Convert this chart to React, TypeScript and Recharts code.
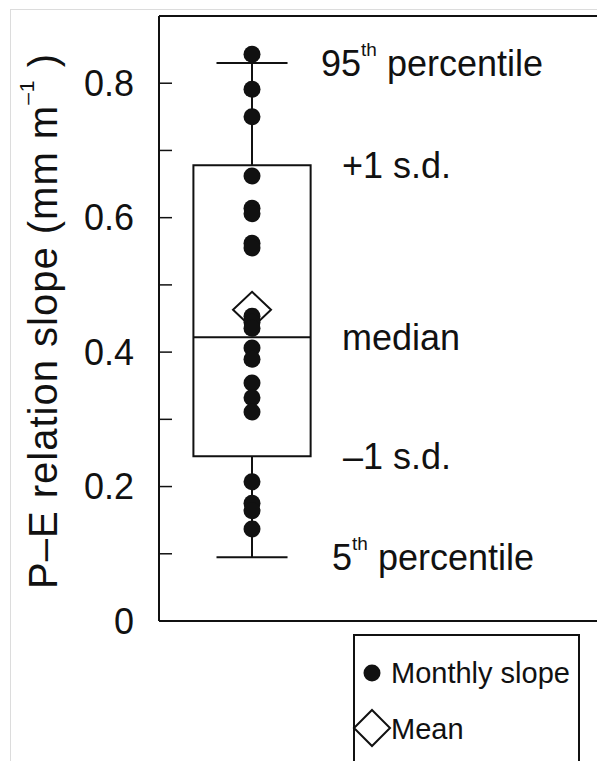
import React from 'react';
import { ComposedChart, Scatter, XAxis, YAxis, ReferenceArea, ReferenceLine } from 'recharts';

// individual monthly slopes, read top to bottom
const monthlySlope = [
  0.843, 0.791, 0.75, 0.662, 0.614, 0.606, 0.562, 0.555,
  0.4535, 0.4445, 0.4355, 0.406, 0.3895,
  0.354, 0.332, 0.311,
  0.207, 0.175, 0.164, 0.137,
];
const meanSlope = [0.463];

// box-plot statistics: 95th pct, +1 s.d., median, -1 s.d., 5th pct
const statNames = ['p95', 'sdHigh', 'median', 'sdLow', 'p5'];
const statValues = [0.83, 0.678, 0.422, 0.245, 0.095];
// [main, superscript, rest]
const statLabels: [string, string, string][] = [
  ['95', 'th', ' percentile'],
  ['+1 s.d.', '', ''],
  ['median', '', ''],
  ['\u20131 s.d.', '', ''],
  ['5', 'th', ' percentile'],
];
const statLabelDx = [69, 90, 90, 91, 80];

const yTicks = [0, 0.1, 0.2, 0.3, 0.4, 0.5, 0.6, 0.7, 0.8];
const yTickLabels = ['0', '', '0.2', '', '0.4', '', '0.6', '', '0.8'];

const INK = '#111';
const FONT = '"Liberation Sans", Arial, Helvetica, sans-serif';
const PLOT_LEFT = 159;
const PLOT_RIGHT = 603;
const SERIES_X = 0.2095;
const BOX_HALF = 0.132;
const CAP_HALF = 0.08;

const stat = (name: string) => statValues[statNames.indexOf(name)];

const dotData = monthlySlope.map((y) => ({ x: SERIES_X, y }));
const meanData = meanSlope.map((y) => ({ x: SERIES_X, y }));
const labelData = statValues.map((y, i) => ({ x: SERIES_X, y, i }));

const LeftTick = (props: any) => {
  const { y, payload } = props;
  const idx = yTicks.indexOf(payload.value);
  const label = yTickLabels[idx] ?? '';
  return (
    <g>
      <line x1={PLOT_LEFT} x2={PLOT_LEFT + 13} y1={y} y2={y} stroke={INK} strokeWidth={1.5} />
      {label && (
        <text x={PLOT_LEFT - 25} y={y + 12.5} textAnchor="end" fontSize={36} fill={INK} fontFamily={FONT}>
          {label}
        </text>
      )}
    </g>
  );
};

const RightTick = (props: any) => {
  const { y, payload } = props;
  const major = yTickLabels[yTicks.indexOf(payload.value)] !== '';
  return <line x1={PLOT_RIGHT} x2={PLOT_RIGHT - (major ? 15 : 8)} y1={y} y2={y} stroke={INK} strokeWidth={1.5} />;
};

const AxisTitle = () => (
  <text
    x={43}
    y={321}
    transform="rotate(-90, 43, 321)"
    textAnchor="middle"
    dominantBaseline="central"
    fontSize={40}
    letterSpacing={1}
    fill={INK}
    fontFamily={FONT}
  >
    P{'\u2013'}E relation slope (mm m
    <tspan fontSize={21} dy={-17}>{'\u2013'}1</tspan>
    <tspan dy={17}> )</tspan>
  </text>
);

const Dot = (props: any) => <circle cx={props.cx} cy={props.cy} r={8.5} fill={INK} />;

const Diamond = (props: any) => {
  const { cx, cy } = props;
  return (
    <polygon
      points={`${cx},${cy - 18} ${cx + 19},${cy} ${cx},${cy + 18} ${cx - 19},${cy}`}
      fill="#fff"
      stroke={INK}
      strokeWidth={2}
    />
  );
};

const StatLabel = (props: any) => {
  const { cx, cy, payload } = props;
  const [main, sup, rest] = statLabels[payload.i];
  return (
    <text x={cx + statLabelDx[payload.i]} y={cy + 13} fontSize={36} fill={INK} fontFamily={FONT}>
      {main}
      {sup && (
        <tspan fontSize={19} dy={-20}>
          {sup}
        </tspan>
      )}
      {rest && <tspan dy={20}>{rest}</tspan>}
    </text>
  );
};

const Legend = () => (
  <svg width={597} height={761} style={{ position: 'absolute', left: 0, top: 0, pointerEvents: 'none' }}>
    <rect x={354} y={635} width={225} height={150} fill="#fff" stroke={INK} strokeWidth={2} />
    <circle cx={372} cy={673} r={8.5} fill={INK} />
    <text x={391} y={683} fontSize={29} fill={INK} fontFamily={FONT}>Monthly slope</text>
    <polygon points="372,710 390,728 372,746 354,728" fill="#fff" stroke={INK} strokeWidth={2} />
    <text x={391} y={739} fontSize={29} fill={INK} fontFamily={FONT}>Mean</text>
  </svg>
);

export default function App() {
  const axisLine = { stroke: INK, strokeWidth: 2 };
  return (
    <div style={{ position: 'absolute', left: 0, top: 0, width: 597, height: 761, overflow: 'hidden', background: '#fff', fontFamily: FONT }}>
      <div style={{ position: 'absolute', left: 10, top: 9, width: 700, height: 800, border: '1px solid #dcdcdc' }} />
      <ComposedChart width={612} height={761} margin={{ top: 0, right: 0, bottom: 110, left: 0 }}>
        <XAxis dataKey="x" type="number" domain={[0, 1]} tick={false} tickLine={false} axisLine={axisLine} height={30} />
        <XAxis xAxisId="top" orientation="top" type="number" domain={[0, 1]} tick={false} tickLine={false} axisLine={axisLine} height={16} />
        <YAxis
          dataKey="y"
          type="number"
          domain={[0, 0.9]}
          ticks={yTicks}
          interval={0}
          width={159}
          tickLine={false}
          tickSize={0}
          tick={<LeftTick />}
          axisLine={axisLine}
          label={<AxisTitle />}
        />
        <YAxis
          yAxisId="r"
          orientation="right"
          type="number"
          domain={[0, 0.9]}
          ticks={yTicks}
          interval={0}
          width={9}
          tickLine={false}
          tickSize={0}
          tick={<RightTick />}
          axisLine={axisLine}
        />

        <ReferenceArea
          x1={SERIES_X - BOX_HALF}
          x2={SERIES_X + BOX_HALF}
          y1={stat('sdLow')}
          y2={stat('sdHigh')}
          fill="none"
          fillOpacity={0}
          stroke={INK}
          strokeWidth={2}
        />
        <ReferenceLine
          segment={[{ x: SERIES_X - BOX_HALF, y: stat('median') }, { x: SERIES_X + BOX_HALF, y: stat('median') }]}
          stroke={INK}
          strokeWidth={2}
        />
        <ReferenceLine segment={[{ x: SERIES_X, y: stat('sdHigh') }, { x: SERIES_X, y: stat('p95') }]} stroke={INK} strokeWidth={2} />
        <ReferenceLine segment={[{ x: SERIES_X, y: stat('p5') }, { x: SERIES_X, y: stat('sdLow') }]} stroke={INK} strokeWidth={2} />
        <ReferenceLine
          segment={[{ x: SERIES_X - CAP_HALF, y: stat('p95') }, { x: SERIES_X + CAP_HALF, y: stat('p95') }]}
          stroke={INK}
          strokeWidth={2}
        />
        <ReferenceLine
          segment={[{ x: SERIES_X - CAP_HALF, y: stat('p5') }, { x: SERIES_X + CAP_HALF, y: stat('p5') }]}
          stroke={INK}
          strokeWidth={2}
        />

        <Scatter data={meanData} shape={<Diamond />} isAnimationActive={false} />
        <Scatter data={dotData} shape={<Dot />} isAnimationActive={false} />
        <Scatter data={labelData} shape={<StatLabel />} isAnimationActive={false} />
      </ComposedChart>
      <Legend />
    </div>
  );
}
